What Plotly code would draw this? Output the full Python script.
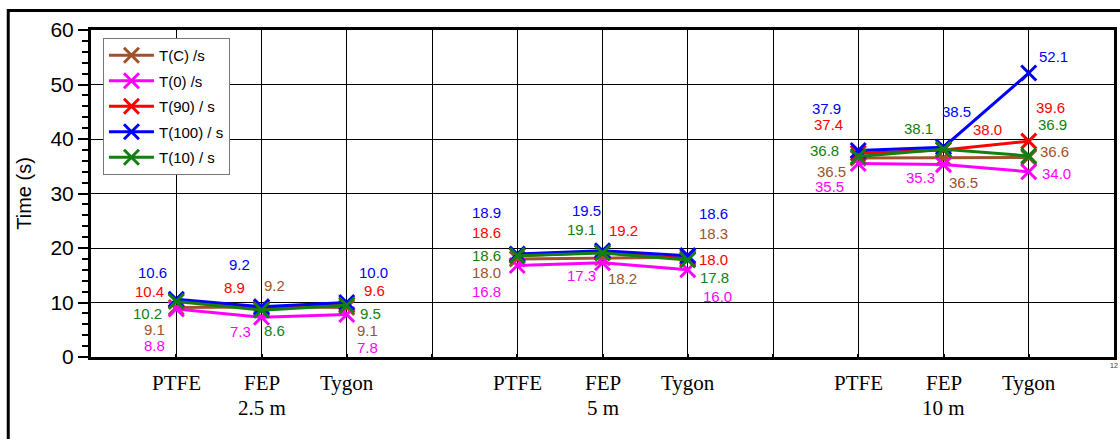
import plotly.graph_objects as go

# ---- data ----
lengths = ["2.5 m", "5 m", "10 m"]
materials = ["PTFE", "FEP", "Tygon"]
series_names = ["T(C) /s", "T(0) /s", "T(90) / s", "T(100) / s", "T(10) / s"]
series_colors = ["#A0522D", "#FF00FF", "#FF0000", "#0000FF", "#118011"]

# values ordered: 2.5m (PTFE, FEP, Tygon), 5m (...), 10m (...)
t_c   = [9.1, 9.2, 9.1, 18.0, 18.2, 18.3, 36.5, 36.5, 36.6]
t_0   = [8.8, 7.3, 7.8, 16.8, 17.3, 16.0, 35.5, 35.3, 34.0]
t_90  = [10.4, 8.9, 9.6, 18.6, 19.2, 18.0, 37.4, 38.0, 39.6]
t_100 = [10.6, 9.2, 10.0, 18.9, 19.5, 18.6, 37.9, 38.5, 52.1]
t_10  = [10.2, 8.6, 9.5, 18.6, 19.1, 17.8, 36.8, 38.1, 36.9]
series_values = [t_c, t_0, t_90, t_100, t_10]

y_ticks = [0, 10, 20, 30, 40, 50, 60]

# ---- label placement (pixel offsets from each point: dx right, dy down) ----
label_offsets = [
    [(-22, 22), (13, -21), (21, 23), (-31, 14), (20, 21), (26, -24), (-27, 13), (20, 24), (26, -6)],
    [(-22, 36), (-21, 14), (21, 33), (-31, 26), (-21, 13), (30, 27), (-29, 23), (-23, 13), (28, 2)],
    [(-27, -9), (-27, -21), (28, -14), (-31, -23), (21, -22), (26, 1), (-30, -29), (44, -20), (22, -34)],
    [(-24, -27), (-22, -42), (27, -30), (-31, -42), (-16, -40), (26, -42), (-32, -42), (13, -36), (25, -17)],
    [(-29, 12), (13, 20), (24, 8), (-31, 0), (-21, -23), (27, 18), (-34, -6), (-25, -21), (24, -31)],
]

# x positions: groups separated by an empty slot
xpos = []
for g in range(len(lengths)):
    for m in range(len(materials)):
        xpos.append(g * (len(materials) + 1) + m + 1)

fig = go.Figure()
for si, (name, color, vals) in enumerate(zip(series_names, series_colors, series_values)):
    xs, ys = [], []
    for g in range(len(lengths)):
        for m in range(len(materials)):
            i = g * len(materials) + m
            xs.append(xpos[i])
            ys.append(vals[i])
        xs.append(None)
        ys.append(None)
    fig.add_trace(go.Scatter(
        x=xs, y=ys, name=name, mode="lines+markers",
        line=dict(color=color, width=3),
        marker=dict(symbol="x-thin", size=15, line=dict(color=color, width=3), color=color),
        legendgroup=f"g{si}",
    ))

annotations = []
for si, (color, vals) in enumerate(zip(series_colors, series_values)):
    for i, v in enumerate(vals):
        dx, dy = label_offsets[si][i]
        annotations.append(dict(
            x=xpos[i], y=v, xref="x", yref="y", text=f"{v:.1f}", showarrow=False,
            xshift=dx, yshift=-dy, font=dict(family="Arial, Liberation Sans", size=15, color=color),
        ))

serif = "Liberation Serif, Times New Roman, serif"
for g, L in enumerate(lengths):
    for m, mat in enumerate(materials):
        annotations.append(dict(
            x=xpos[g * len(materials) + m], y=0, xref="x", yref="paper", text=mat,
            showarrow=False, yanchor="middle", yshift=-26,
            font=dict(family=serif, size=21, color="black"),
        ))
    annotations.append(dict(
        x=xpos[g * len(materials) + 1], y=0, xref="x", yref="paper", text=L,
        showarrow=False, yanchor="middle", yshift=-51,
        font=dict(family=serif, size=21, color="black"),
    ))

xtickvals = list(range(0, 13))
xticktext = [""] * 12 + ["12"]

fig.update_layout(
    width=1120, height=439,
    margin=dict(l=91, r=3, t=30, b=82),
    paper_bgcolor="white", plot_bgcolor="white",
    font=dict(family="Arial, Liberation Sans", color="black"),
    showlegend=True,
    legend=dict(
        x=0.0117, y=0.9755, xanchor="left", yanchor="top",
        bordercolor="#777777", borderwidth=1, bgcolor="white",
        font=dict(family="Arial, Liberation Sans", size=15, color="black"),
        tracegroupgap=3, itemwidth=45,
    ),
    annotations=annotations,
    shapes=[dict(
        type="rect", xref="paper", yref="paper",
        x0=-0.0809, x1=1.05, y0=-0.5, y1=1.0596,
        line=dict(color="black", width=3), layer="above",
    )],
)
fig.update_xaxes(
    range=[0, 12], tickvals=xtickvals, ticktext=xticktext,
    tickfont=dict(size=7, color="#333333"),
    showgrid=True, gridcolor="black", gridwidth=1,
    showline=True, linecolor="black", linewidth=3, mirror=True,
    ticks="inside", ticklen=3, tickwidth=2, tickcolor="black",
    zeroline=False,
)
fig.update_yaxes(
    range=[0, 60], tickvals=y_ticks,
    tickfont=dict(size=21, family="Arial, Liberation Sans"),
    title=dict(text="Time (s)", font=dict(size=20), standoff=14),
    showgrid=True, gridcolor="black", gridwidth=1,
    showline=True, linecolor="black", linewidth=3, mirror=True,
    ticks="outside", ticklen=10, tickwidth=2, tickcolor="black",
    minor=dict(dtick=2, ticks="outside", ticklen=6, tickwidth=2, tickcolor="black", showgrid=False),
    zeroline=False,
)

fig.write_html("out.html")
